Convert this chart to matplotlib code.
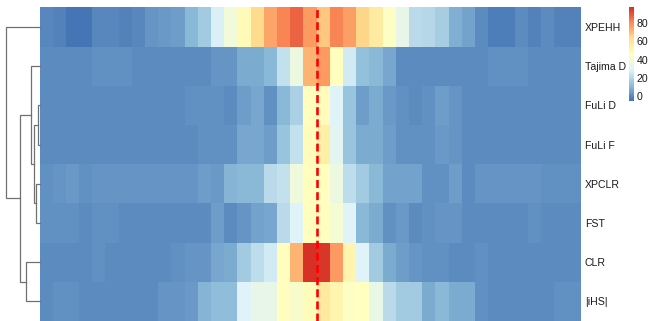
import numpy as np
import matplotlib
matplotlib.use("Agg")
import matplotlib.pyplot as plt
from matplotlib.colors import LinearSegmentedColormap, Normalize
from matplotlib.cm import ScalarMappable

plt.rcParams['font.family'] = ['Liberation Sans', 'DejaVu Sans']

row_labels = ["XPEHH", "Tajima D", "FuLi D", "FuLi F", "XPCLR", "FST", "CLR", "|iHS|"]

# 41 windows per statistic, top to bottom in dendrogram order
xpehh = [-1, -2, -5.5, -5.5, -1, -1, -2, -1, 2, 3, 4.5, 10, 16, 28, 38, 49, 64, 75, 82, 88, 77,
         68, 82, 76, 65, 57, 44, 33, 21, 20, 17, 8, 5, 0, -3, -3, 0, -2, 0, -2, -2]
tajima_d = [0.5, 0.5, 0.5, 0.5, 1, 1.5, 1.5, 0.5, 0.5, 0.5, 0.5, 0.3, 0.3, 2, 2, 7, 7.5, 10, 23, 36, 72,
            77, 46, 26, 13, 10, 6, 0.5, 0, 0, 0, 0.5, 0.5, 0.5, 1, 1, 1, 0.5, 0.5, 0.5, 0.5]
fuli_d = [0.5, 0.5, 0.5, 0.5, 0.5, 0.5, 0.5, 0.5, 0.5, 0.5, 0.5, 1.5, 1.5, 1, 0, 4, 6, 1.5, 10, 18, 46,
          48, 29, 14, 4, 7, 3, 1.5, 0, 1, 4, 2, 0.5, 0.5, 0.5, 0.5, 0.5, 0.5, 0.5, 0.5, 0.5]
fuli_f = [0.5, 0.5, 0.5, 0.5, 0.5, 0.5, 0.5, 0.5, 0.5, 0.5, 0.5, 0.5, 1, 1.5, 1.5, 6, 6, 4, 14, 23, 48,
          55, 31, 14, 7, 7, 4.5, 1.5, 1, 1.5, 3.5, 2, 0.5, 0.5, 0.5, 0.5, 0.5, 0.5, 0.5, 0.5, 0.5]
xpclr = [1.5, 2, 3, 1, 2, 2, 2.5, 2.5, 2, 2.5, 2.5, 2, 4, 3, 9, 10, 10, 21, 23, 37, 46,
         46, 36, 22, 16, 10, 5.5, 5.5, 5.5, 1, 1, 4.5, 0.5, 2, 2, 2.5, 2, 2.5, 1, 1, 1.5]
fst = [1.5, 1, 1.5, 0.5, 1.5, 1.5, 0.5, 0.5, 0.5, 0.5, 0.5, 0.5, 0.5, 4, 0, 2.5, 5.5, 6, 21, 29, 46,
       46, 40, 29, 10, 7, 1.5, 3, 0.5, 1.5, 2, 2, 0.5, 0.5, 0.5, 0.5, 0.5, 1.5, 0.5, 0.5, 0.5]
clr = [0.5, 0.5, 0.5, 0.5, 1, 0.5, 0.5, 0.5, 0.5, 0.5, 1.5, 2, 2, 6, 7.5, 16, 22, 26, 46, 72, 97.5,
       96, 77, 52, 29, 16, 7.5, 4.5, 2.5, 1, 1, 0.5, 0, 1.5, 0.5, 0.5, 0.5, 0.5, 0.5, 0.5, 0.5]
ihs = [0.5, 1.5, 1.5, 0.5, 0.5, 0.5, 0.5, 0.5, 0.5, 2, 2, 3.5, 9, 11, 11, 29, 33, 33, 46, 42, 48,
       58, 52, 44, 45, 34, 21, 16, 16, 7.5, 10, 7, 7.5, 1, 0.5, 0.5, 0.5, 0.5, 0.5, 1.5, 1.5]

# dendrogram merges: (left child, right child, height); leaves are row indices,
# merged nodes numbered 8, 9, ...
merges = [(2, 3, 0.04), (4, 5, 0.10), (8, 9, 0.17), (1, 10, 0.24),
          (6, 7, 0.41), (11, 12, 0.58), (0, 13, 1.0)]

colorbar_ticks = [0, 20, 40, 60, 80]
center_window = 21

data = np.array([xpehh, tajima_d, fuli_d, fuli_f, xpclr, fst, clr, ihs])
vmin, vmax = data.min(), data.max()

cmap = LinearSegmentedColormap.from_list(
    "rdylbu", ["#4575B4", "#91BFDB", "#E0F3F8", "#FFFFBF", "#FEE090", "#FC8D59", "#D73027"], N=100)

W, H = 649, 321
fig = plt.figure(figsize=(W / 100, H / 100), dpi=100)

hm_left, hm_right, hm_top = 39.5, 580.5, 7.3
ax = fig.add_axes([hm_left / W, 0, (hm_right - hm_left) / W, 1 - hm_top / H])
nrows, ncols = data.shape
ax.pcolormesh(np.arange(ncols + 1), np.arange(nrows + 1), data, cmap=cmap, vmin=vmin, vmax=vmax,
              shading='flat', antialiased=False, edgecolors='none')
ax.set_xlim(0, ncols)
ax.set_ylim(nrows, 0)
ax.axvline(center_window, color='#ff0000', lw=1.9, linestyle=(0, (3.0, 1.6)))
ax.set_xticks([])
ax.set_yticks(np.arange(nrows) + 0.5)
ax.set_yticklabels(row_labels, fontsize=7.6, color='#1a1a1a')
ax.yaxis.tick_right()
ax.tick_params(axis='y', length=0, pad=3)
for s in ax.spines.values():
    s.set_visible(False)

# dendrogram
dax = fig.add_axes([6 / W, 0, (hm_left - 6) / W, 1 - hm_top / H])
pos = {i: i + 0.5 for i in range(nrows)}
hgt = {i: 0.0 for i in range(nrows)}
for k, (a, b, h) in enumerate(merges):
    node = nrows + k
    dax.plot([hgt[a], h, h, hgt[b]], [pos[a], pos[a], pos[b], pos[b]],
             color='#707070', lw=0.9, clip_on=False, solid_joinstyle='miter')
    pos[node] = (pos[a] + pos[b]) / 2
    hgt[node] = h
dax.set_xlim(1.0, 0)
dax.set_ylim(nrows, 0)
dax.axis('off')

# colour key
cax = fig.add_axes([628.5 / W, 1 - 101 / H, 5.5 / W, (101 - 7.3) / H])
cb = fig.colorbar(ScalarMappable(norm=Normalize(vmin, vmax), cmap=cmap), cax=cax)
cb.outline.set_visible(False)
cb.set_ticks(colorbar_ticks)
cb.ax.tick_params(length=0, labelsize=7.6, pad=2, labelcolor='#1a1a1a')

fig.savefig("out.png", dpi=100)
